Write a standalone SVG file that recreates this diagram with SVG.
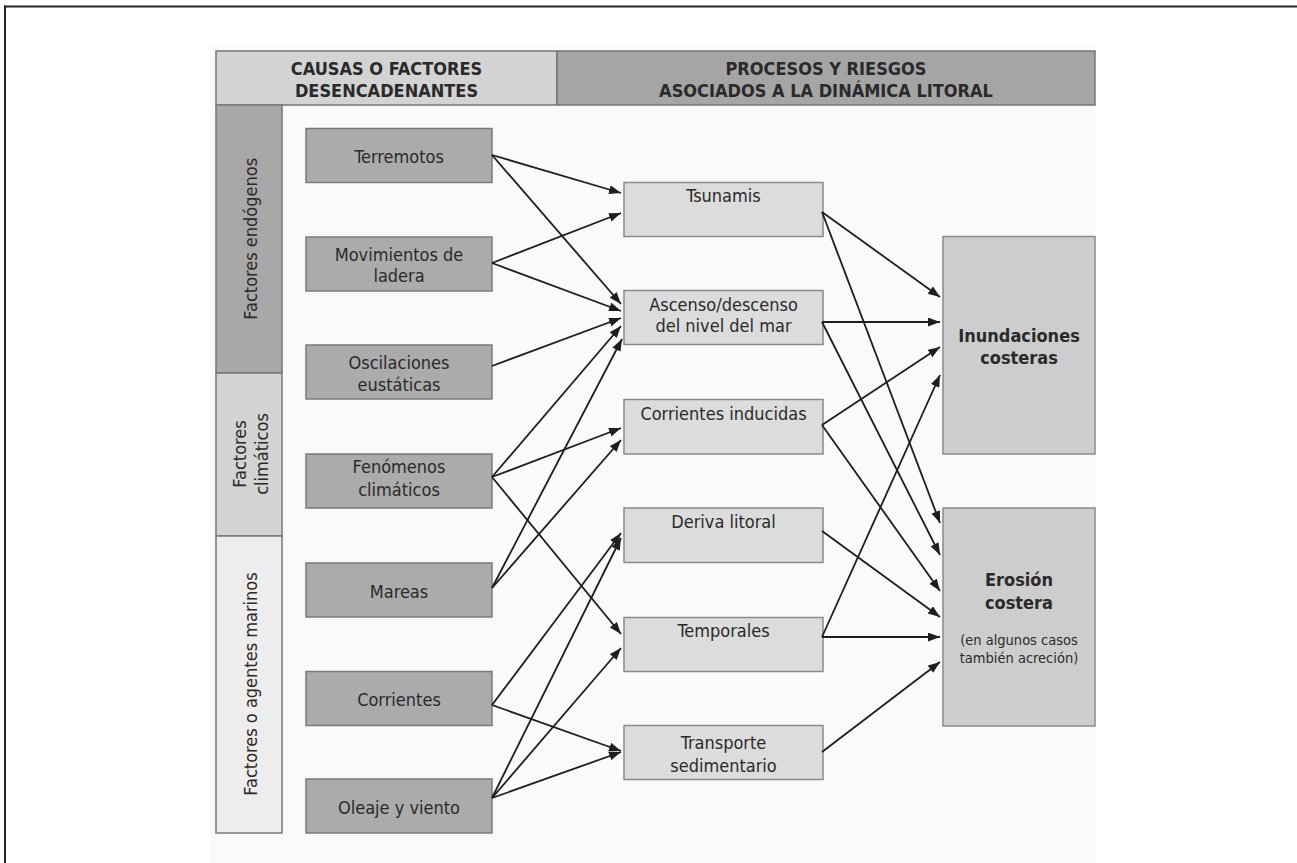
<svg xmlns="http://www.w3.org/2000/svg" width="1297" height="863" viewBox="0 0 1297 863">
<style>
  text { font-family: "DejaVu Sans Condensed", "DejaVu Sans", sans-serif; font-stretch: condensed; fill: #2a2a2a; font-size: 18px; text-anchor: middle; }
  .hdr { font-weight: bold; }
  .bold { font-weight: bold; }
  .small { font-size: 14.5px; }
  .nL { fill: #ababab; stroke: #7a7a7a; stroke-width: 1.5; }
  .nM { fill: #dcdcdc; stroke: #8a8a8a; stroke-width: 1.5; }
  .nR { fill: #cdcdcd; stroke: #8a8a8a; stroke-width: 1.5; }
  .conn line { stroke: #1e1e1e; stroke-width: 1.8; marker-end: url(#arr); }
</style>
<defs>
  <marker id="arr" markerUnits="userSpaceOnUse" markerWidth="13" markerHeight="10" refX="12" refY="4.5" orient="auto">
    <path d="M0,0 L12,4.5 L0,9 z" fill="#1e1e1e"/>
  </marker>
</defs>
<rect x="0" y="0" width="1297" height="863" fill="#ffffff"/>
<rect x="210" y="45" width="885" height="818" fill="#fafafa"/>
<g id="frame">
  <line x1="4" y1="6.5" x2="1297" y2="6.5" stroke="#222" stroke-width="2"/>
  <line x1="5" y1="5.5" x2="5" y2="863" stroke="#222" stroke-width="2"/>
</g>
<g id="header">
  <rect x="216" y="51" width="341" height="54" fill="#d3d3d3" stroke="#777" stroke-width="1.5"/>
  <text class="hdr" x="386.5" y="75">CAUSAS O FACTORES</text>
  <text class="hdr" x="386.5" y="97.3">DESENCADENANTES</text>
  <rect x="557" y="51" width="538" height="54" fill="#a5a5a5" stroke="#777" stroke-width="1.5"/>
  <text class="hdr" x="826" y="75">PROCESOS Y RIESGOS</text>
  <text class="hdr" x="826" y="97.3">ASOCIADOS A LA DINÁMICA LITORAL</text>
</g>
<g id="band-endogenos">
  <rect x="216" y="105" width="66" height="268" fill="#a8a8a8" stroke="#777" stroke-width="1.5"/>
  <text transform="translate(256.5,238.8) rotate(-90)">Factores endógenos</text>
</g>
<g id="band-climaticos">
  <rect x="216" y="373" width="66" height="163" fill="#d3d3d3" stroke="#777" stroke-width="1.5"/>
  <text transform="translate(245.5,454) rotate(-90)">Factores</text>
  <text transform="translate(268,454) rotate(-90)">climáticos</text>
</g>
<g id="band-marinos">
  <rect x="216" y="536" width="66" height="297" fill="#ededed" stroke="#777" stroke-width="1.5"/>
  <text transform="translate(256.5,684) rotate(-90)">Factores o agentes marinos</text>
</g>
<g id="terremotos">
  <rect class="nL" x="306" y="128.5" width="186" height="54"/>
  <text x="399" y="163">Terremotos</text>
</g>
<g id="movimientos">
  <rect class="nL" x="306" y="237" width="186" height="54"/>
  <text x="399" y="260.5">Movimientos de</text>
  <text x="399" y="282">ladera</text>
</g>
<g id="oscilaciones">
  <rect class="nL" x="306" y="345" width="186" height="54"/>
  <text x="399" y="368.5">Oscilaciones</text>
  <text x="399" y="391">eustáticas</text>
</g>
<g id="fenomenos">
  <rect class="nL" x="306" y="454" width="186" height="54"/>
  <text x="399" y="473">Fenómenos</text>
  <text x="399" y="495.5">climáticos</text>
</g>
<g id="mareas">
  <rect class="nL" x="306" y="563" width="186" height="54"/>
  <text x="399" y="597.5">Mareas</text>
</g>
<g id="corrientes">
  <rect class="nL" x="306" y="671.5" width="186" height="54"/>
  <text x="399" y="705.5">Corrientes</text>
</g>
<g id="oleaje">
  <rect class="nL" x="306" y="779" width="186" height="54"/>
  <text x="399" y="814">Oleaje y viento</text>
</g>
<g id="tsunamis">
  <rect class="nM" x="624" y="182.5" width="199" height="54"/>
  <text x="723.5" y="202">Tsunamis</text>
</g>
<g id="ascenso">
  <rect class="nM" x="624" y="290.5" width="199" height="54"/>
  <text x="723.5" y="310.5">Ascenso/descenso</text>
  <text x="723.5" y="332">del nivel del mar</text>
</g>
<g id="corrientes-inducidas">
  <rect class="nM" x="624" y="399.5" width="199" height="54.5"/>
  <text x="723.5" y="420">Corrientes inducidas</text>
</g>
<g id="deriva">
  <rect class="nM" x="624" y="508" width="199" height="54.5"/>
  <text x="723.5" y="528">Deriva litoral</text>
</g>
<g id="temporales">
  <rect class="nM" x="624" y="617.5" width="199" height="54"/>
  <text x="723.5" y="636.5">Temporales</text>
</g>
<g id="transporte">
  <rect class="nM" x="624" y="725.5" width="199" height="54"/>
  <text x="723.5" y="749">Transporte</text>
  <text x="723.5" y="771.5">sedimentario</text>
</g>
<g id="inundaciones">
  <rect class="nR" x="943" y="236.5" width="152" height="217.5"/>
  <text class="bold" x="1019" y="341.5">Inundaciones</text>
  <text class="bold" x="1019" y="364">costeras</text>
</g>
<g id="erosion">
  <rect class="nR" x="943" y="508" width="152" height="218"/>
  <text class="bold" x="1019" y="586">Erosión</text>
  <text class="bold" x="1019" y="608.5">costera</text>
  <text class="small" x="1019" y="645">(en algunos casos</text>
  <text class="small" x="1019" y="662.5">también acreción)</text>
</g>
<g id="connectors" class="conn">
  <line x1="492" y1="155" x2="621" y2="193"/>
  <line x1="492" y1="155" x2="621" y2="304"/>
  <line x1="492" y1="263" x2="621" y2="213"/>
  <line x1="492" y1="263" x2="621" y2="311"/>
  <line x1="492" y1="366" x2="621" y2="318"/>
  <line x1="492" y1="477" x2="621" y2="326"/>
  <line x1="492" y1="477" x2="621" y2="428"/>
  <line x1="492" y1="477" x2="621" y2="634"/>
  <line x1="492" y1="588" x2="622" y2="339"/>
  <line x1="492" y1="588" x2="621" y2="440"/>
  <line x1="492" y1="705" x2="621" y2="533"/>
  <line x1="492" y1="705" x2="621" y2="751"/>
  <line x1="492" y1="798" x2="621" y2="538"/>
  <line x1="492" y1="798" x2="621" y2="648"/>
  <line x1="492" y1="798" x2="621" y2="752"/>
  <line x1="822" y1="212" x2="940" y2="297"/>
  <line x1="822" y1="212" x2="940" y2="523"/>
  <line x1="822" y1="322" x2="940" y2="322"/>
  <line x1="822" y1="322" x2="940" y2="555"/>
  <line x1="822" y1="425" x2="940" y2="347"/>
  <line x1="822" y1="425" x2="940" y2="591"/>
  <line x1="822" y1="531" x2="940" y2="617"/>
  <line x1="822" y1="637" x2="940" y2="375"/>
  <line x1="822" y1="637" x2="940" y2="637"/>
  <line x1="822" y1="752" x2="940" y2="662"/>
</g>
</svg>
